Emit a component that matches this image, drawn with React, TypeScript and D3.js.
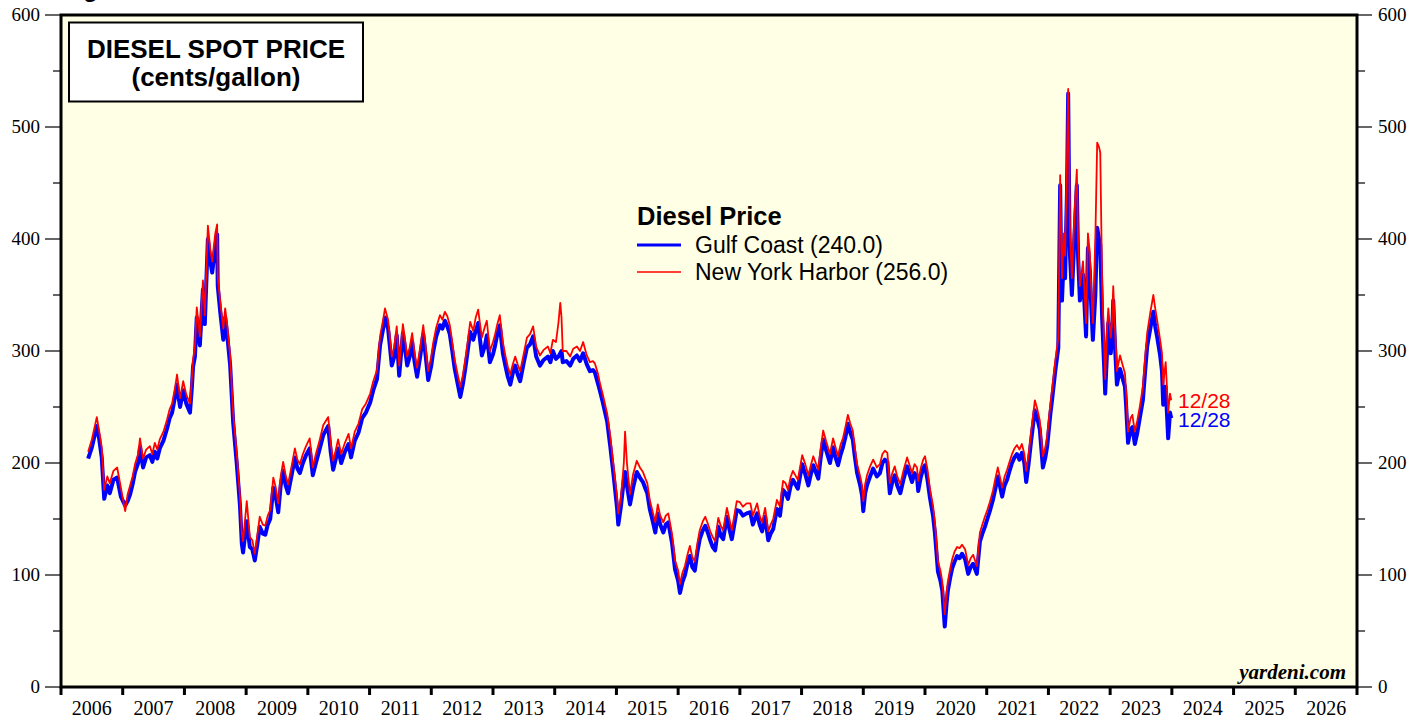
import React from "react";
import * as d3 from "d3";

const dates: number[] = [
  2006.44, 2006.50, 2006.58, 2006.62, 2006.66, 2006.70, 2006.75, 2006.79, 2006.85, 2006.91, 2006.97,
  2007.04, 2007.08, 2007.12, 2007.16, 2007.20, 2007.25, 2007.28, 2007.33, 2007.38, 2007.44, 2007.48,
  2007.52, 2007.56, 2007.60, 2007.66, 2007.72, 2007.76, 2007.80, 2007.85, 2007.88, 2007.91, 2007.93,
  2007.98, 2008.03, 2008.09, 2008.12, 2008.14, 2008.17, 2008.20, 2008.25, 2008.30, 2008.33, 2008.38,
  2008.42, 2008.45, 2008.50, 2008.53, 2008.54, 2008.58, 2008.63, 2008.66, 2008.69, 2008.74, 2008.79,
  2008.85, 2008.90, 2008.93, 2008.95, 2009.01, 2009.06, 2009.10, 2009.14, 2009.18, 2009.22, 2009.27,
  2009.31, 2009.35, 2009.39, 2009.44, 2009.48, 2009.52, 2009.56, 2009.60, 2009.64, 2009.68, 2009.74,
  2009.79, 2009.83, 2009.87, 2009.92, 2009.97, 2010.03, 2010.08, 2010.13, 2010.18, 2010.25, 2010.33,
  2010.37, 2010.41, 2010.45, 2010.49, 2010.54, 2010.60, 2010.66, 2010.70, 2010.76, 2010.82, 2010.88,
  2010.94, 2011.01, 2011.06, 2011.12, 2011.17, 2011.22, 2011.25, 2011.30, 2011.36, 2011.40, 2011.44,
  2011.48, 2011.54, 2011.58, 2011.61, 2011.65, 2011.69, 2011.73, 2011.77, 2011.82, 2011.87, 2011.91,
  2011.95, 2012.00, 2012.03, 2012.08, 2012.14, 2012.18, 2012.22, 2012.26, 2012.30, 2012.34, 2012.38,
  2012.42, 2012.47, 2012.51, 2012.55, 2012.59, 2012.63, 2012.68, 2012.72, 2012.76, 2012.79, 2012.82,
  2012.87, 2012.90, 2012.95, 2013.00, 2013.03, 2013.07, 2013.11, 2013.16, 2013.20, 2013.24, 2013.28,
  2013.32, 2013.36, 2013.40, 2013.44, 2013.50, 2013.55, 2013.60, 2013.65, 2013.70, 2013.76, 2013.82,
  2013.89, 2013.93, 2013.97, 2014.02, 2014.06, 2014.09, 2014.11, 2014.13, 2014.19, 2014.25, 2014.30,
  2014.36, 2014.41, 2014.46, 2014.52, 2014.57, 2014.62, 2014.65, 2014.70, 2014.73, 2014.78, 2014.85,
  2014.90, 2014.95, 2015.01, 2015.03, 2015.07, 2015.09, 2015.12, 2015.14, 2015.17, 2015.22, 2015.27,
  2015.33, 2015.38, 2015.43, 2015.47, 2015.50, 2015.54, 2015.58, 2015.63, 2015.67, 2015.71, 2015.76,
  2015.80, 2015.84, 2015.90, 2015.95, 2016.00, 2016.03, 2016.07, 2016.11, 2016.15, 2016.19, 2016.23,
  2016.27, 2016.31, 2016.35, 2016.40, 2016.44, 2016.48, 2016.52, 2016.56, 2016.60, 2016.65, 2016.69,
  2016.73, 2016.79, 2016.83, 2016.87, 2016.91, 2016.95, 2017.00, 2017.05, 2017.11, 2017.17, 2017.21,
  2017.28, 2017.32, 2017.36, 2017.41, 2017.46, 2017.50, 2017.54, 2017.60, 2017.65, 2017.70, 2017.74,
  2017.78, 2017.82, 2017.86, 2017.90, 2017.94, 2018.01, 2018.06, 2018.11, 2018.15, 2018.19, 2018.23,
  2018.27, 2018.31, 2018.35, 2018.40, 2018.46, 2018.51, 2018.55, 2018.59, 2018.63, 2018.67, 2018.71,
  2018.75, 2018.79, 2018.83, 2018.86, 2018.90, 2018.95, 2018.98, 2019.00, 2019.03, 2019.06, 2019.11,
  2019.16, 2019.22, 2019.27, 2019.31, 2019.35, 2019.39, 2019.43, 2019.47, 2019.51, 2019.55, 2019.60,
  2019.65, 2019.71, 2019.75, 2019.79, 2019.83, 2019.87, 2019.89, 2019.93, 2019.97, 2020.00, 2020.04,
  2020.08, 2020.13, 2020.16, 2020.21, 2020.25, 2020.28, 2020.32, 2020.35, 2020.37, 2020.41, 2020.44,
  2020.48, 2020.52, 2020.56, 2020.60, 2020.65, 2020.70, 2020.74, 2020.78, 2020.84, 2020.89, 2020.93,
  2020.97, 2021.01, 2021.05, 2021.10, 2021.14, 2021.18, 2021.22, 2021.25, 2021.29, 2021.33, 2021.37,
  2021.41, 2021.45, 2021.49, 2021.53, 2021.57, 2021.61, 2021.64, 2021.68, 2021.72, 2021.78, 2021.82,
  2021.86, 2021.91, 2021.95, 2021.98, 2022.03, 2022.06, 2022.11, 2022.16, 2022.19, 2022.21, 2022.22,
  2022.25, 2022.27, 2022.30, 2022.32, 2022.34, 2022.35, 2022.38, 2022.42, 2022.46, 2022.48, 2022.51,
  2022.56, 2022.61, 2022.64, 2022.67, 2022.69, 2022.72, 2022.76, 2022.79, 2022.82, 2022.84, 2022.87,
  2022.90, 2022.92, 2022.95, 2022.97, 2023.01, 2023.03, 2023.05, 2023.08, 2023.11, 2023.16, 2023.20,
  2023.24, 2023.26, 2023.29, 2023.33, 2023.36, 2023.40, 2023.44, 2023.48, 2023.53, 2023.57, 2023.60,
  2023.65, 2023.70, 2023.73, 2023.76, 2023.81, 2023.84, 2023.86, 2023.90, 2023.94, 2023.97, 2023.99,
];

const gulfCoast: number[] = [
  204, 214, 233, 221, 205, 168, 180, 173, 185, 187, 170,
  162, 166, 172, 181, 192, 200, 214, 196, 205, 207, 201,
  210, 204, 213, 220, 231, 240, 245, 260, 270, 257, 250,
  265, 253, 245, 267, 286, 295, 330, 305, 355, 324, 400,
  380, 370, 393, 404, 358, 335, 310, 330, 316, 288, 236,
  198, 162, 128, 120, 148, 125, 123, 113, 127, 143, 137,
  136, 145, 150, 178, 170, 156, 180, 193, 180, 173, 190,
  205, 195, 191, 200, 207, 213, 189, 200, 210, 225, 233,
  210, 194, 203, 213, 200, 210, 217, 205, 220, 227, 240,
  245, 254, 265, 275, 305, 320, 330, 320, 287, 295, 314,
  278, 316, 300, 287, 295, 308, 290, 277, 295, 315, 295,
  274, 287, 299, 313, 323, 320, 327, 322, 315, 300, 284,
  273, 259, 270, 284, 300, 317, 310, 318, 325, 310, 296,
  305, 314, 290, 297, 304, 315, 323, 298, 287, 277, 270,
  280, 287, 279, 273, 290, 303, 306, 313, 295, 287, 292,
  295, 290, 300, 293, 295, 298, 300, 290, 291, 287, 293,
  296, 291, 298, 288, 282, 283, 281, 271, 265, 254, 237,
  215, 191, 160, 145, 160, 170, 185, 192, 180, 163, 178,
  192, 187, 183, 177, 173, 159, 150, 138, 155, 145, 138,
  145, 147, 129, 105, 95, 84, 94, 100, 110, 117, 107,
  104, 120, 132, 140, 144, 138, 131, 125, 122, 143, 135,
  132, 152, 141, 132, 145, 158, 157, 153, 155, 156, 145,
  155, 145, 139, 152, 131, 137, 141, 159, 153, 176, 173,
  168, 179, 185, 181, 177, 199, 190, 180, 190, 198, 192,
  186, 205, 221, 211, 200, 214, 205, 198, 207, 214, 223,
  235, 227, 221, 207, 191, 180, 171, 157, 173, 180, 188,
  195, 188, 191, 200, 203, 201, 173, 183, 189, 180, 173,
  185, 197, 190, 183, 191, 188, 175, 187, 195, 198, 185,
  169, 153, 138, 103, 95, 86, 54, 75, 86, 98, 106,
  112, 117, 115, 119, 114, 101, 107, 110, 101, 130, 137,
  143, 150, 157, 167, 177, 188, 178, 170, 180, 185, 193,
  200, 205, 208, 203, 209, 200, 183, 200, 220, 247, 240,
  230, 196, 205, 215, 243, 257, 282, 303, 448, 360, 345,
  388, 365, 440, 530, 410, 385, 350, 400, 448, 385, 345,
  368, 313, 392, 372, 345, 310, 350, 410, 400, 395, 330,
  290, 262, 300, 325, 298, 312, 345, 303, 270, 284, 276,
  268, 250, 218, 230, 232, 217, 227, 240, 256, 284, 304,
  320, 335, 322, 313, 296, 282, 252, 268, 222, 245, 240,
];

const nyHarbor: number[] = [
  210, 221, 241, 228, 214, 176, 188, 182, 193, 196, 178,
  157, 172, 180, 188, 199, 208, 222, 204, 212, 215, 208,
  218, 212, 221, 228, 239, 248, 253, 268, 279, 266, 258,
  273, 261, 253, 275, 293, 304, 339, 313, 363, 332, 412,
  390, 380, 405, 413, 366, 344, 320, 338, 325, 296, 244,
  207, 170, 138, 130, 166, 134, 131, 119, 135, 152, 145,
  144, 153, 158, 187, 178, 164, 188, 201, 189, 181, 198,
  213, 203, 199, 208, 215, 222, 196, 208, 218, 234, 241,
  218, 202, 211, 221, 208, 218, 226, 213, 228, 235, 248,
  253, 262, 273, 283, 313, 328, 338, 328, 295, 304, 322,
  287, 324, 308, 295, 303, 316, 298, 285, 303, 323, 303,
  282, 295, 307, 321, 332, 328, 335, 331, 323, 308, 292,
  281, 268, 278, 292, 308, 326, 318, 330, 337, 324, 312,
  322, 327, 300, 308, 314, 324, 332, 308, 296, 286, 279,
  288, 295, 288, 282, 298, 312, 315, 322, 304, 296, 301,
  304, 298, 310, 308, 325, 343, 330, 300, 300, 295, 302,
  304, 300, 308, 296, 290, 291, 289, 280, 272, 261, 244,
  224, 199, 170, 155, 168, 180, 200, 228, 200, 172, 190,
  202, 196, 192, 186, 182, 167, 158, 147, 163, 153, 147,
  153, 155, 137, 113, 104, 92, 102, 108, 118, 126, 116,
  112, 128, 140, 148, 152, 146, 139, 134, 130, 151, 144,
  140, 160, 150, 140, 153, 166, 165, 161, 164, 164, 153,
  164, 153, 147, 160, 139, 145, 150, 167, 161, 184, 182,
  176, 187, 193, 189, 185, 207, 199, 189, 198, 206, 200,
  194, 213, 229, 219, 208, 222, 214, 206, 216, 222, 232,
  243, 235, 229, 215, 199, 188, 180, 166, 181, 189, 197,
  203, 196, 199, 208, 211, 209, 182, 191, 197, 188, 181,
  193, 205, 198, 191, 199, 196, 184, 195, 203, 206, 194,
  177, 162, 147, 112, 104, 94, 65, 84, 94, 106, 114,
  121, 125, 124, 127, 123, 109, 115, 118, 108, 138, 145,
  152, 158, 165, 175, 186, 196, 186, 178, 188, 194, 201,
  208, 213, 216, 212, 217, 208, 193, 208, 228, 256, 248,
  238, 206, 214, 224, 252, 266, 291, 312, 457, 400, 365,
  405, 385, 470, 534, 450, 405, 365, 420, 462, 400, 358,
  380, 325, 405, 388, 360, 325, 400, 486, 482, 477, 360,
  310, 275, 320, 338, 312, 325, 358, 318, 282, 296, 288,
  280, 262, 228, 240, 243, 228, 238, 250, 268, 296, 316,
  334, 350, 338, 328, 310, 298, 270, 290, 245, 262, 256,
];

const yTicks: number[] = [0, 100, 200, 300, 400, 500, 600];
const yMinorTicks: number[] = [50, 150, 250, 350, 450, 550];
const yearLabels: number[] = [2006, 2007, 2008, 2009, 2010, 2011, 2012, 2013, 2014, 2015, 2016, 2017, 2018, 2019, 2020, 2021, 2022, 2023, 2024, 2025, 2026];
const yearTicks: number[] = [2006, 2007, 2008, 2009, 2010, 2011, 2012, 2013, 2014, 2015, 2016, 2017, 2018, 2019, 2020, 2021, 2022, 2023, 2024, 2025, 2026, 2027];

const W = 1427;
const H = 721;
const L = 61;
const R = 1357;
const T = 15;
const B = 687;

export default function App() {
  const x = d3.scaleLinear().domain([2006, 2027]).range([L, R]);
  const y = d3.scaleLinear().domain([0, 600]).range([B, T]);

  const line = d3
    .line<number>()
    .x((_, i) => x(dates[i]))
    .y((d) => y(d));

  const serif = "'Liberation Serif', 'Times New Roman', serif";
  const sans = "'Liberation Sans', Arial, sans-serif";

  return (
    <svg
      width={W}
      height={H}
      style={{ position: "absolute", left: 0, top: 0, background: "#ffffff" }}
    >
      <rect x={L} y={T} width={R - L} height={B - T} fill="#FFFFE5" />

      {/* cut-off heading */}
      <text x={62} y={-3} fontFamily={sans} fontWeight="bold" fontSize={24} fill="#000">
        Figure
      </text>

      {/* series */}
      <path d={line(gulfCoast) || ""} fill="none" stroke="#0000FF" strokeWidth={4} strokeLinejoin="round" />
      <path d={line(nyHarbor) || ""} fill="none" stroke="#FF0000" strokeWidth={1.8} strokeLinejoin="round" />

      {/* frame */}
      <rect x={L} y={T} width={R - L} height={B - T} fill="none" stroke="#000" strokeWidth={3} />

      {/* left & right y axes */}
      {yTicks.map((t) => (
        <g key={"y" + t}>
          <line x1={45} x2={L} y1={y(t)} y2={y(t)} stroke="#000" strokeWidth={1.2} />
          <text x={40} y={y(t) + 6} textAnchor="end" fontFamily={serif} fontSize={19} fill="#000">
            {t}
          </text>
          <line x1={R} x2={1372} y1={y(t)} y2={y(t)} stroke="#000" strokeWidth={1.2} />
          <text x={1378} y={y(t) + 6} textAnchor="start" fontFamily={serif} fontSize={19} fill="#000">
            {t}
          </text>
        </g>
      ))}
      {yMinorTicks.map((t) => (
        <g key={"ym" + t}>
          <line x1={53} x2={L} y1={y(t)} y2={y(t)} stroke="#000" strokeWidth={1.2} />
          <line x1={R} x2={1365} y1={y(t)} y2={y(t)} stroke="#000" strokeWidth={1.2} />
        </g>
      ))}

      {/* x axis */}
      {yearTicks.map((t) => (
        <line key={"xt" + t} x1={x(t)} x2={x(t)} y1={B} y2={695} stroke="#000" strokeWidth={3} />
      ))}
      {yearLabels.map((t) => (
        <text key={"xl" + t} x={x(t + 0.5)} y={715} textAnchor="middle" fontFamily={serif} fontSize={20} fill="#000">
          {t}
        </text>
      ))}

      {/* title box */}
      <rect x={69} y={22.5} width={294} height={79} fill="#ffffff" stroke="#000" strokeWidth={2} />
      <text x={216} y={58} textAnchor="middle" fontFamily={sans} fontWeight="bold" fontSize={26} fill="#000">
        DIESEL SPOT PRICE
      </text>
      <text x={216} y={86} textAnchor="middle" fontFamily={sans} fontWeight="bold" fontSize={26} fill="#000">
        (cents/gallon)
      </text>

      {/* legend */}
      <text x={637} y={225} fontFamily={sans} fontWeight="bold" fontSize={25.5} fill="#000">
        Diesel Price
      </text>
      <line x1={637} x2={681} y1={245} y2={245} stroke="#0000FF" strokeWidth={3} />
      <text x={695} y={253} fontFamily={sans} fontSize={23} fill="#000">
        Gulf Coast (240.0)
      </text>
      <line x1={637} x2={681} y1={272} y2={272} stroke="#FF0000" strokeWidth={1.5} />
      <text x={695} y={280} fontFamily={sans} fontSize={23} fill="#000">
        New York Harbor (256.0)
      </text>

      {/* end labels */}
      <text x={1178} y={408} fontFamily={sans} fontSize={21} fill="#FF0000">
        12/28
      </text>
      <text x={1178} y={427} fontFamily={sans} fontSize={21} fill="#0000FF">
        12/28
      </text>

      {/* source */}
      <text x={1346} y={679} textAnchor="end" fontFamily={serif} fontStyle="italic" fontWeight="bold" fontSize={21} fill="#000">
        yardeni.com
      </text>
    </svg>
  );
}
